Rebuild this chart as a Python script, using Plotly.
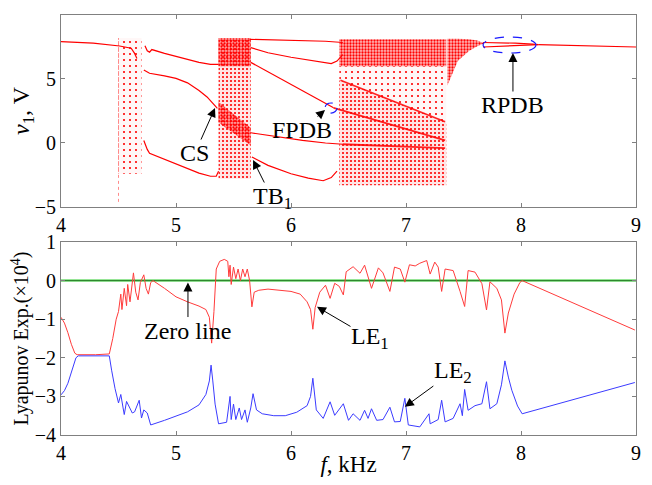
import plotly.graph_objects as go

# ---------------- data: bifurcation diagram (top) ----------------
p1_f = [4.0, 4.28, 4.51, 4.61, 4.64, 4.66]
p1_v = [7.92, 7.8, 7.58, 7.4, 7.0, 6.6]

p3a_f = [4.73, 4.75, 4.77, 4.79, 4.9, 5.0, 5.1, 5.2, 5.3, 5.37]
p3a_v = [7.6, 7.2, 7.1, 7.3, 7.0, 6.75, 6.5, 6.3, 6.15, 6.15]
p3b_f = [4.72, 4.77, 4.9, 5.0, 5.1, 5.2, 5.27, 5.32, 5.36]
p3b_v = [5.7, 5.45, 5.25, 5.05, 4.7, 4.1, 3.6, 3.1, 2.7]
p3c_f = [4.72, 4.75, 4.77, 4.85, 5.0, 5.1, 5.2, 5.3, 5.35, 5.37]
p3c_v = [0.2, -0.5, -0.8, -1.1, -1.6, -2.0, -2.35, -2.6, -2.6, -2.2]

p5a_f = [5.64, 5.9, 6.1, 6.3, 6.45]
p5a_v = [8.1, 8.05, 8.0, 7.95, 7.85]
p5b_f = [5.65, 5.8, 6.0, 6.2, 6.35, 6.4, 6.45]
p5b_v = [7.45, 7.05, 6.7, 6.4, 6.2, 6.4, 6.9]
p5c_f = [5.65, 5.8, 6.0, 6.15, 6.3, 6.37]
p5c_v = [6.3, 5.55, 4.55, 3.85, 3.05, 2.75]
p5d_f = [5.65, 5.9, 6.1, 6.3, 6.45]
p5d_v = [0.8, 0.45, 0.2, 0.0, -0.1]
p5e_f = [5.66, 5.8, 6.0, 6.15, 6.28, 6.35, 6.4]
p5e_v = [-1.1, -1.75, -2.4, -2.75, -2.95, -2.7, -2.2]

band1_f = [6.37, 6.8, 7.34]
band1_v = [2.75, 1.6, 0.2]
band2_f = [6.45, 7.34]
band2_v = [-0.1, -0.4]
band3_f = [6.43, 7.34]
band3_v = [4.9, 1.66]

rpdb_up_f = [7.67, 7.8, 7.95, 8.1, 8.15]
rpdb_up_v = [7.85, 7.85, 7.8, 7.72, 7.68]
rpdb_lo_f = [7.67, 7.8, 7.95, 8.1, 8.15]
rpdb_lo_v = [7.5, 7.55, 7.6, 7.65, 7.68]
p1b_f = [8.15, 8.5, 9.0]
p1b_v = [7.68, 7.62, 7.5]

chaos_regions = [
    ([4.5, 4.7, 4.7, 4.5], [8.2, 8.2, -2.4, -2.4], "sparse"),
    ([5.37, 5.65, 5.65, 5.37], [8.2, 8.2, -2.8, -2.8], "medium"),
    ([5.37, 5.65, 5.65, 5.37], [8.2, 8.2, 6.0, 6.0], "dense"),
    ([5.37, 5.65, 5.65, 5.37], [3.2, 1.2, -0.2, 1.6], "dense"),
    ([6.42, 7.35, 7.35, 6.42], [8.1, 8.1, 6.0, 6.0], "dense"),
    ([6.42, 7.35, 7.35, 6.42], [6.0, 6.0, 1.6, 4.9], "sparse"),
    ([6.42, 7.35, 7.35, 6.42], [4.9, 1.6, -3.3, -3.3], "medium"),
    ([7.36, 7.45, 7.55, 7.62, 7.68, 7.62, 7.55, 7.45, 7.36],
     [8.15, 8.15, 8.1, 8.0, 7.8, 7.55, 7.2, 6.4, 4.5], "dense"),
]
sparse_col_f = [4.5, 4.5]
sparse_col_v = [-4.6, 8.2]

# ---------------- data: Lyapunov exponents (bottom) ----------------
le1_f = [4.0, 4.03, 4.06, 4.09, 4.12, 4.14, 4.3, 4.42, 4.45, 4.48, 4.5, 4.52, 4.53,
         4.55, 4.57, 4.58, 4.6, 4.62, 4.63, 4.65, 4.67, 4.69, 4.72, 4.74, 4.76, 4.78,
         4.8, 4.9, 5.0, 5.1, 5.2, 5.26, 5.29, 5.31, 5.33, 5.35, 5.38, 5.42, 5.45, 5.46,
         5.47, 5.48, 5.5, 5.52, 5.54, 5.56, 5.58, 5.6, 5.62, 5.64, 5.66, 5.68, 5.72,
         5.8, 5.9, 6.0, 6.08, 6.14, 6.17, 6.19, 6.21, 6.25, 6.3, 6.34, 6.38, 6.42,
         6.455, 6.48, 6.54, 6.6, 6.64, 6.7, 6.76, 6.8, 6.86, 6.9, 6.95, 6.99, 7.03,
         7.08, 7.12, 7.18, 7.21, 7.25, 7.28, 7.31, 7.34, 7.41, 7.47, 7.51, 7.54, 7.6,
         7.66, 7.7, 7.73, 7.79, 7.83, 7.86, 7.89, 7.94, 7.99, 8.01, 8.99]
le1_v = [-0.95, -1.1, -1.35, -1.65, -1.88, -1.92, -1.92, -1.9, -1.5, -1.0, -0.8, -0.35, -0.75,
         -0.2, -0.65, -0.1, -0.55, 0.05, 0.2, -0.3, -0.5, -0.05, 0.15, -0.2, -0.35, -0.05,
         0.0, -0.2, -0.42, -0.55, -0.66, -0.75, -0.95, -1.62, -0.8, 0.3, 0.5, 0.55, 0.5, 0.1,
         0.4, -0.1, 0.35, 0.05, 0.3, 0.0, 0.3, 0.1, 0.3, 0.0, -0.68, -0.3, -0.25,
         -0.22, -0.25, -0.28, -0.35, -0.55, -0.75, -1.26, -0.7, -0.3, -0.12, -0.46, -0.07, -0.15,
         -0.37, 0.23, 0.36, 0.19, 0.4, -0.2, 0.33, 0.2, -0.28, 0.35, 0.3, -0.04, 0.41,
         0.38, 0.45, 0.52, 0.17, 0.48, 0.35, -0.28, 0.3, 0.26, -0.28, -0.67, 0.26, 0.22,
         -0.08, -0.76, -0.03, -0.2, -0.5, -1.36, -0.84, -0.35, -0.05, 0.0, -1.28]

le2_f = [4.0, 4.03, 4.06, 4.1, 4.13, 4.15, 4.3, 4.42, 4.44, 4.47, 4.5, 4.52, 4.54, 4.55,
         4.57, 4.6, 4.62, 4.64, 4.66, 4.68, 4.7, 4.72, 4.75, 4.78, 4.9, 5.0, 5.1, 5.2,
         5.26, 5.29, 5.305, 5.32, 5.34, 5.37, 5.44, 5.47, 5.48, 5.5, 5.52, 5.55, 5.57,
         5.6, 5.62, 5.65, 5.67, 5.7, 5.75, 5.85, 5.95, 6.05, 6.14, 6.17, 6.19, 6.22,
         6.25, 6.28, 6.34, 6.38, 6.455, 6.5, 6.54, 6.6, 6.64, 6.67, 6.7, 6.745, 6.8,
         6.86, 6.9, 6.95, 6.99, 7.02, 7.12, 7.2, 7.21, 7.28, 7.31, 7.34, 7.41, 7.47,
         7.49, 7.51, 7.54, 7.6, 7.66, 7.7, 7.73, 7.79, 7.83, 7.86, 7.89, 7.92, 7.97,
         8.01, 8.99]
le2_v = [-2.96, -2.85, -2.66, -2.3, -2.0, -1.95, -1.95, -1.95, -2.32, -2.8, -3.17, -2.95, -3.3, -3.47,
         -3.13, -3.3, -3.43, -3.4, -3.26, -3.1, -3.56, -3.35, -3.43, -3.74, -3.62, -3.52, -3.4, -3.22,
         -2.95, -2.6, -2.19, -2.6, -3.2, -3.71, -3.67, -3.0, -3.6, -3.2, -3.6, -3.3, -3.6,
         -3.35, -3.67, -3.3, -2.93, -3.35, -3.45, -3.5, -3.5, -3.41, -3.24, -3.0, -2.53, -3.35,
         -3.45, -3.57, -3.14, -3.49, -3.19, -3.62, -3.45, -3.62, -3.36, -3.57, -3.32, -3.62, -3.6,
         -3.28, -3.66, -3.65, -3.05, -3.74, -3.79, -3.45, -3.71, -3.6, -3.1, -3.66, -3.57, -3.19,
         -3.5, -2.82, -3.36, -3.24, -3.19, -2.62, -3.32, -3.19, -2.7, -2.08, -2.5, -2.84, -3.25,
         -3.45, -2.64]

zero_f = [4.0, 9.0]
zero_v = [0.0, 0.0]

x_ticks = [4, 5, 6, 7, 8, 9]
top_y_ticks = [-5, 0, 5, 10]
bot_y_ticks = [-4, -3, -2, -1, 0, 1]

# ---------------- figure ----------------
FONT = "Liberation Serif, Times New Roman, serif"
RED = "#ff0000"
fig = go.Figure()

density_style = {
    "sparse": dict(size=6, solidity=0.1, bg="rgba(255,0,0,0.03)"),
    "medium": dict(size=4, solidity=0.22, bg="rgba(255,0,0,0.1)"),
    "dense": dict(size=3, solidity=0.45, bg="rgba(255,0,0,0.28)"),
}
for fx, fy, dens in chaos_regions:
    st = density_style[dens]
    fig.add_trace(go.Scatter(
        x=fx, y=fy, fill="toself", mode="none", fillcolor=st["bg"],
        fillpattern=dict(shape=".", fgcolor=RED, bgcolor=st["bg"],
                         size=st["size"], solidity=st["solidity"]),
        hoverinfo="skip", showlegend=False, xaxis="x", yaxis="y"))

fig.add_trace(go.Scatter(x=sparse_col_f, y=sparse_col_v, mode="lines",
                         line=dict(color=RED, width=1, dash="dot"), opacity=0.45,
                         showlegend=False, xaxis="x", yaxis="y"))

branches = [(p1_f, p1_v), (p3a_f, p3a_v), (p3b_f, p3b_v), (p3c_f, p3c_v),
            (p5a_f, p5a_v), (p5b_f, p5b_v), (p5c_f, p5c_v), (p5d_f, p5d_v),
            (p5e_f, p5e_v), (rpdb_up_f, rpdb_up_v), (rpdb_lo_f, rpdb_lo_v),
            (p1b_f, p1b_v)]
for bx, by in branches:
    fig.add_trace(go.Scatter(x=bx, y=by, mode="lines", line=dict(color=RED, width=1.2),
                             showlegend=False, xaxis="x", yaxis="y"))
for bx, by in [(band1_f, band1_v), (band2_f, band2_v), (band3_f, band3_v)]:
    fig.add_trace(go.Scatter(x=bx, y=by, mode="lines", line=dict(color=RED, width=1.8),
                             opacity=0.85, showlegend=False, xaxis="x", yaxis="y"))

# bottom panel
fig.add_trace(go.Scatter(x=zero_f, y=zero_v, mode="lines", line=dict(color="#2ecc2e", width=2.0),
                         showlegend=False, xaxis="x2", yaxis="y2"))
fig.add_trace(go.Scatter(x=zero_f, y=zero_v, mode="lines", line=dict(color="#2f5f2f", width=0.7),
                         showlegend=False, xaxis="x2", yaxis="y2"))
fig.add_trace(go.Scatter(x=le1_f, y=le1_v, mode="lines", line=dict(color="#ff3b3b", width=1),
                         showlegend=False, xaxis="x2", yaxis="y2"))
fig.add_trace(go.Scatter(x=le2_f, y=le2_v, mode="lines", line=dict(color="#3b3bff", width=1),
                         showlegend=False, xaxis="x2", yaxis="y2"))

axis_common = dict(showline=True, linecolor="#808080", linewidth=1, mirror="ticks",
                   ticks="inside", ticklen=4, tickcolor="#808080", showgrid=False,
                   zeroline=False, automargin=False,
                   tickfont=dict(family=FONT, size=20, color="black"))

fig.update_layout(
    template="none",
    xaxis=dict(anchor="y", domain=[0, 1], range=[4, 9], tickvals=x_ticks, **axis_common),
    yaxis=dict(anchor="x", domain=[0.5429, 1.0], range=[-5, 10], tickvals=top_y_ticks, **axis_common,
               title=dict(text="<i>v</i><sub>1</sub>, V",
                          font=dict(family=FONT, size=24, color="black"), standoff=4)),
    xaxis2=dict(anchor="y2", domain=[0, 1], range=[4, 9], tickvals=x_ticks, **axis_common,
                title=dict(text="<i>f</i>, kHz",
                           font=dict(family=FONT, size=23, color="black"), standoff=2)),
    yaxis2=dict(anchor="x2", domain=[0.0, 0.4595], range=[-4, 1], tickvals=bot_y_ticks, **axis_common,
                title=dict(text="Lyapunov Exp.(×10<sup>4</sup>)",
                           font=dict(family=FONT, size=20, color="black"), standoff=5)),
)

label_specs = [
    ("x", "y", 5.339, 2.73, -20, 45, "CS"),
    ("x", "y", 5.67, -1.33, 19, 38, "TB<sub>1</sub>"),
    ("x", "y", 6.296, 2.58, -23, 20, "FPDB"),
    ("x", "y", 7.93, 7.03, 0, 52, "RPDB"),
    ("x2", "y2", 5.104, -0.05, 0, 48, "Zero line"),
    ("x2", "y2", 6.226, -0.68, 53, 31, "LE<sub>1</sub>"),
    ("x2", "y2", 6.99, -3.27, 48, -35, "LE<sub>2</sub>"),
]
for xr, yr, hx, hy, ax, ay, txt in label_specs:
    fig.add_annotation(x=hx, y=hy, xref=xr, yref=yr, ax=ax, ay=ay, text=txt,
                       showarrow=True, arrowhead=2, arrowsize=1.8, arrowwidth=1,
                       arrowcolor="black", borderpad=0,
                       font=dict(family=FONT, size=24, color="black"))

for x0, x1, y0, y1 in [(6.296, 6.40, 2.34, 3.125), (7.67, 8.13, 7.03, 8.28)]:
    fig.add_shape(type="circle", xref="x", yref="y", x0=x0, x1=x1, y0=y0, y1=y1,
                  line=dict(color="#1a1aff", width=1.2, dash="dash"))

# the page body adds an 8 px margin, so the figure is sized to fit inside it
fig.update_layout(width=636, height=469, margin=dict(l=53, r=8, t=7, b=42),
                  plot_bgcolor="white", paper_bgcolor="white", showlegend=False,
                  font=dict(family=FONT, color="black"))

fig.write_html("out.html")
